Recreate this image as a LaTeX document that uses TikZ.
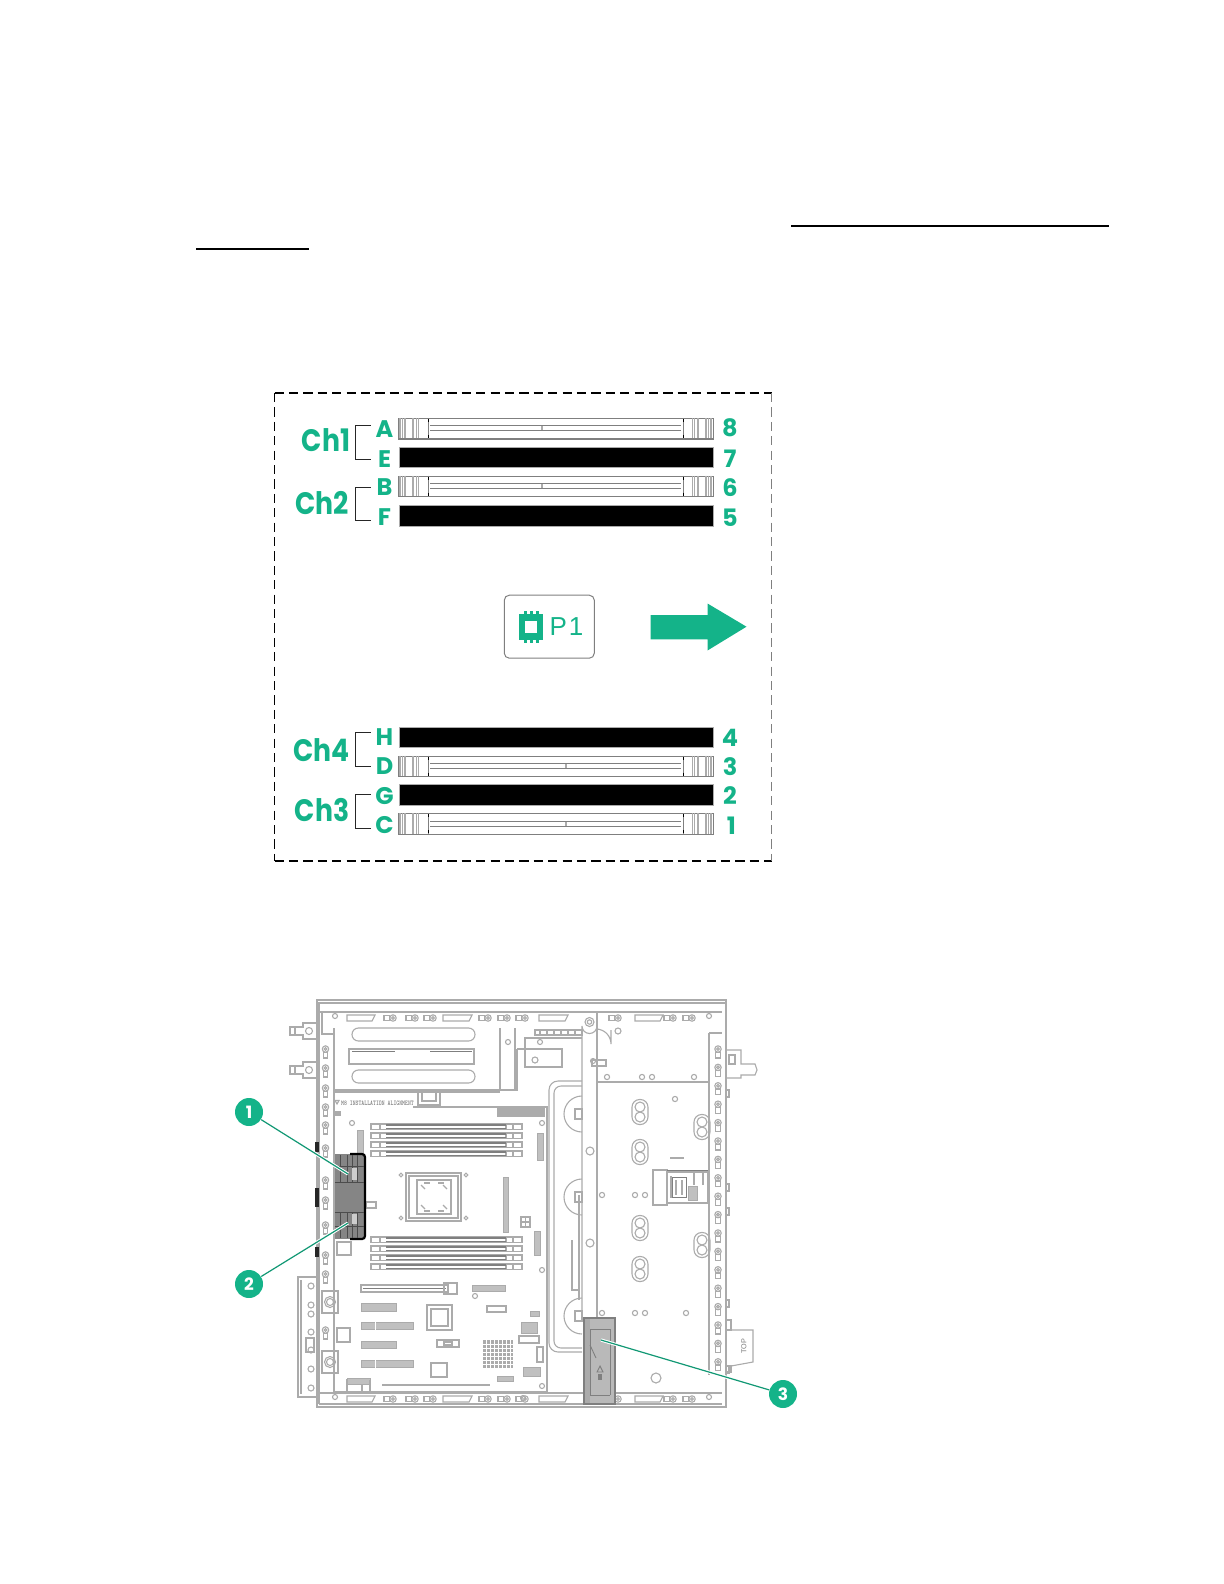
\documentclass[tikz,border=0pt]{standalone}
\usepackage{fontspec}
\setmainfont{Liberation Sans}
\newfontfamily\labelfont{Poppins}
\usetikzlibrary{calc, positioning}
\definecolor{hgreen}{HTML}{14B389}
\definecolor{cline}{HTML}{ABABAB}
\definecolor{cdark}{HTML}{7F7F7F}
\definecolor{cmodule}{HTML}{858585}
\definecolor{cduct}{HTML}{B9B9B9}
\tikzset{
  railscrew/.pic={
    \draw[chline] (0,0) circle (3.2);
    \draw[chline] (0,0) circle (1.4);
    \draw[chline] (-2.4,3.2) rectangle (2.4,9);
  },
  bigscrew/.pic={
    \draw[chline] (-8,-11) rectangle (8,11);
    \draw[chline] (0,0) circle (5.5);
    \draw[chline] (0,0) circle (3.5);
  },
  oval/.pic={
    \draw[chline, rounded corners=3.8pt] (-8,-12.5) rectangle (8,12.5);
    \draw[chline] (0,-5) circle (5);
    \draw[chline] (0,5) circle (5);
  }
}
\begin{document}
\begin{tikzpicture}[x=0.5pt, y=-0.5pt,
  chline/.style={draw=cline, line width=0.55pt},
  darkline/.style={draw=cdark, line width=0.5pt},
  hatchbox/.style={draw=cline, fill=cline!75, line width=0.4pt},
  dimmfull/.style={rectangle, fill=black, draw=cline, line width=0.3pt, minimum width=157.25pt, minimum height=10.25pt, inner sep=0pt},
  dimmopen/.style={rectangle, fill=white, draw=cdark, line width=0.6pt, minimum width=157.25pt, minimum height=10.25pt, inner sep=0pt},
  chlabel/.style={text=hgreen, xscale=0.86, font=\labelfont\bfseries\fontsize{15.5}{16}\selectfont, inner sep=0pt},
  slotlabel/.style={text=hgreen, font=\labelfont\bfseries\fontsize{12}{12}\selectfont, inner sep=0pt},
  chbrk/.style={draw=black!85, line width=0.45pt},
  frameline/.style={dashed, dash pattern=on 4.6pt off 2.6pt, line width=0.7pt},
  callout/.style={circle, fill=hgreen, draw=none, minimum size=14pt, inner sep=0pt, text=white, font=\labelfont\bfseries\fontsize{8.5}{9}\selectfont},
  leader/.style={draw=hgreen!85!black, line width=0.6pt, preaction={draw=white, line width=1.6pt}}
]
\useasboundingbox (0,0) rectangle (1224,1584);

% ============================================================
% Rules left from the text above the picture
\draw[line width=1pt] (791,226) -- (1109,226);
\draw[line width=1pt] (196,248.5) -- (309,248.5);

% ============================================================
% Dashed frame round the DIMM map
\coordinate (fnw) at (274.5,393);
\coordinate (fne) at (771.5,393);
\coordinate (fse) at (771.5,861);
\coordinate (fsw) at (274.5,861);
\draw[frameline] (fnw) -- (fne);
\draw[frameline] (fsw) -- (fse);
\draw[frameline, line width=0.5pt] (fnw) -- (fsw);
\draw[frameline, draw=cdark, line width=0.45pt] (fne) -- (fse);

% DIMM slots: filled ones black, open ones with latches
\node[dimmopen] (slotA) at (556.25,428.75) {};
\node[dimmfull] (slotE) at (556.25,457.5) {};
\node[dimmopen] (slotB) at (556.25,486.5) {};
\node[dimmfull] (slotF) at (556.25,515.75) {};
\node[dimmfull] (slotH) at (556.25,737.5) {};
\node[dimmopen] (slotD) at (556.25,766.5) {};
\node[dimmfull] (slotG) at (556.25,795) {};
\node[dimmopen] (slotC) at (556.25,824) {};

\foreach \s/\nx in {A/143,B/143,D/167,C/167} {
  \begin{scope}[shift={(slot\s.north west)}]
    \draw[chline] (\nx,8) -- (\nx,13);
    \draw[chline] (\nx+1.5,8) -- (\nx+1.5,13);
    \draw[darkline] (32,8) -- (283,8);
    \draw[darkline] (32,13) -- (283,13);
    \draw[darkline] (30,0) -- (30,20.5);
    \draw[darkline] (285,0) -- (285,20.5);
    \draw[black, line width=0.7pt] (30,1) -- (30,4);
    \draw[black, line width=0.7pt] (285,1) -- (285,4);
    \draw[black, line width=0.7pt] (30,17) -- (30,20);
    \draw[black, line width=0.7pt] (285,17) -- (285,20);
    \foreach \lx in {1,2.5,4,6,7.5,14,15.5,18,20} {
      \draw[chline, line width=0.45pt] (\lx,0) -- (\lx,20.5);
      \draw[chline, line width=0.45pt] (314.5-\lx,0) -- (314.5-\lx,20.5);
    }
  \end{scope}
}

% Channel and slot labels
\node[chlabel] (ch1) at (326,440.5) {Ch1};
\node[chlabel] (ch2) at (322,503) {Ch2};
\node[chlabel] (ch4) at (321.5,750) {Ch4};
\node[chlabel] (ch3) at (322,810.5) {Ch3};

\foreach \s/\yy in {A/429,E/459,B/487,F/517,H/737.5,D/766,G/796,C/825} {
  \node[slotlabel] (lab\s) at (384.5,\yy) {\s};
}
\foreach \n/\xx/\yy in {8/730/428,7/730/458.5,6/730/487.5,5/730/517.5,4/730/737.5,3/730/767,2/730/796,1/731.5/826} {
  \node[slotlabel] (num\n) at (\xx,\yy) {\n};
}

% Brackets
\foreach \top/\bot in {425/459,487.5/520.5,732.5/766,794.5/828} {
  \coordinate (ba) at (370.5,\top);
  \coordinate (bb) at (370.5,\bot);
  \draw[chbrk] (ba) -- ($(ba)+(-15,0)$) -- ($(bb)+(-15,0)$) -- (bb);
}

% CPU badge and airflow arrow
\node[draw=cdark, rounded corners=2.5pt, line width=0.5pt, minimum width=45pt, minimum height=31.5pt, inner sep=0pt] (p1box) at (549.3,626.7) {};
\node[text=hgreen, font=\fontsize{13}{13}\selectfont, inner sep=0pt] (p1text) at (566.5,627) {P\kern1pt 1};
\foreach \px in {525,531,537} {
  \fill[hgreen] (\px-1.5,611) rectangle (\px+1.5,643);
}
\fill[hgreen] (519,614) rectangle (543,639.5);
\fill[white] (525,621) rectangle (537,633);
\fill[hgreen] (650.5,615) -- (707.5,615) -- (707.5,603.5) -- (746.5,626.7)
  -- (707.5,650.5) -- (707.5,639.3) -- (650.5,639.3) -- cycle;

% ============================================================
% Chassis seen from the side: outer wall and frame
\draw[chline, line width=1pt] (317,1000) rectangle (726,1407);
\draw[chline] (317,1003) -- (726,1003);
\draw[chline] (319,1012) -- (722,1012);
\draw[chline] (319,1393) -- (722,1393);
\draw[chline] (319,1404) -- (722,1404);
\draw[chline] (319,1003) -- (319,1404);
\draw[chline] (334,1034) -- (334,1393);
\draw[chline] (322,1012) -- (322,1034) -- (334,1034);

% Left rail with its screws
\foreach \yy in {1049,1068,1088,1107,1125,1148,1180,1200,1225,1255,1274,1330} {
  \pic at (325.5,\yy) {railscrew};
}
\foreach \yy in {1302,1362} {
  \pic at (330,\yy) {bigscrew};
}

% Handles on the left wall
\foreach \yy in {1031,1070} {
  \draw[chline] (290,\yy-4) -- (303,\yy-4) -- (303,\yy-8) -- (317,\yy-8)
    -- (317,\yy+8) -- (303,\yy+8) -- (303,\yy+4) -- (290,\yy+4) -- cycle;
  \draw[chline] (309,\yy) circle (3.5);
  \draw[chline] (295,\yy-5) -- (295,\yy+5);
}
\fill[black!85] (315,1142) rectangle (319,1152);
\fill[black!85] (315,1188) rectangle (319,1207);
\fill[black!85] (315,1247) rectangle (319,1257);

% Bracket at the lower left
\draw[chline] (318,1277) -- (298,1277) -- (298,1397) -- (318,1397);
\draw[chline] (301,1280) -- (301,1394);
\foreach \yy in {1286,1305,1314,1332,1350,1369,1388} {
  \draw[chline] (311,\yy) circle (3);
}
\draw[chline] (306,1338) rectangle (314,1352);

% Top and bottom flanges
\foreach \yy in {1018,1399} {
  \foreach \xx in {393,415,433,488,507,525,618,673,692} {
    \pic[rotate=-90] at (\xx,\yy) {railscrew};
  }
  \foreach \xl/\xr in {347/375,443/472,539/568,635/663} {
    \draw[chline] (\xl,\yy-3) -- (\xr,\yy-3) -- (\xr-3,\yy+3) -- (\xl,\yy+3) -- cycle;
  }
  \draw[chline] (335,\yy-2) circle (2.5);
  \draw[chline] (709,\yy-2) circle (2.5);
}

% PCI cage at the top
\draw[chline] (334,1028) -- (334,1090) -- (517,1090) -- (517,1049);
\draw[chline] (500,1028) -- (500,1090);
\draw[chline] (515,1028) -- (515,1090);
\draw[chline] (334,1092) -- (500,1092);
\draw[chline, rounded corners=3.2pt] (352,1028) rectangle (475,1041);
\draw[chline, rounded corners=3.2pt] (352,1070) rectangle (475,1083);
\draw[chline] (349,1049) rectangle (474,1064);
\draw[darkline] (352,1051) -- (395,1051);
\draw[darkline] (430,1051) -- (472,1051);
\draw[chline] (508,1042) circle (2.5);
\draw[chline] (517,1049) -- (525,1049) -- (525,1038) -- (582,1038);
\draw[chline] (525,1049) rectangle (562,1067);
\draw[chline] (535,1060) circle (3);
\draw[chline] (535,1030) rectangle (582,1035);
\foreach \xx in {540,547,554,561,568,575} { \draw[chline] (\xx,1030) -- (\xx,1035); }
\draw[chline] (540,1042) circle (2.5);
\draw[chline] (418,1092) -- (418,1105) -- (440,1105) -- (440,1092);
\draw[chline] (422,1092) -- (422,1101) -- (436,1101) -- (436,1092);

% Alignment note
\draw[chline] (335,1100.5) -- (339,1100.5) -- (337,1104) -- cycle;
\node[text=cline!70!black, xscale=0.77, font=\ttfamily\bfseries\fontsize{3.6}{4}\selectfont, inner sep=0pt] (m8note) at (377.5,1103) {M8 INSTALLATION ALIGNMENT};

% ============================================================
% System board
\draw[chline] (413,1107) -- (547,1107) -- (547,1392);
\draw[chline] (334,1392) -- (547,1392);
\fill[cline] (497,1108) rectangle (545,1117);
\fill[cline] (335,1111) rectangle (341,1116);

% Memory sockets, upper and lower bank
\foreach \yy in {1124,1133,1142,1151,1237,1246,1255,1264} {
  \draw[chline] (371,\yy) rectangle (522,\yy+5.5);
  \draw[chline] (380,\yy) -- (380,\yy+5.5);
  \draw[chline] (513,\yy) -- (513,\yy+5.5);
  \draw[chline] (506,\yy) -- (506,\yy+5.5);
  \draw[cdark, line width=0.7pt] (386,\yy+1) -- (506,\yy+1);
  \draw[cdark, line width=0.7pt] (386,\yy+4.5) -- (506,\yy+4.5);
}

% CPU socket
\draw[chline] (406,1173) rectangle (461,1221);
\draw[chline] (409,1176) rectangle (458,1218);
\draw[chline] (417,1180) rectangle (451,1214);
\foreach \xx/\yy in {401/1175,466/1175,401/1218,466/1218} {
  \draw[chline] (\xx,\yy) circle (1.8);
}
\foreach \xx/\yy in {423/1187,445/1187,423/1207,445/1207} {
  \draw[chline] (\xx-2,\yy-2) -- (\xx+2,\yy+2);
}
\foreach \xx in {427,441} { \draw[chline] (\xx-3,1183) -- (\xx+3,1183); \draw[chline] (\xx-3,1211) -- (\xx+3,1211); }

% Headers and small parts on the board
\foreach \xa/\ya/\xb/\yb in {503/1177/508/1232, 537/1133/543/1160, 534/1231/540/1255, 357/1130/363/1153, 472/1285/505/1291, 361/1303/396/1311, 361/1341/396/1348, 521/1322/537/1333, 523/1367/540/1376} {
  \draw[hatchbox] (\xa,\ya) rectangle (\xb,\yb);
}
\foreach \yy in {1322,1360} {
  \draw[hatchbox] (361,\yy) rectangle (413,\yy+7.5);
  \draw[white, line width=0.4pt] (375,\yy) -- (375,\yy+7.5);
}
\draw[chline] (521,1217) rectangle (530,1227);
\draw[chline] (525.5,1217) -- (525.5,1227);
\draw[chline] (521,1222) -- (530,1222);
\draw[chline] (361,1285) rectangle (448,1292);
\draw[cdark, line width=0.6pt] (363,1288.5) -- (446,1288.5);
\draw[chline] (444,1283) rectangle (457,1294);
\draw[chline] (427,1305) rectangle (452,1330);
\draw[chline] (431,1309) rectangle (448,1326);
\draw[chline] (487,1306) rectangle (506,1312);
\draw[hatchbox] (530,1311) rectangle (539,1316);
\draw[chline] (519,1336) rectangle (539,1343);
\draw[chline] (437,1340) rectangle (459,1347);
\draw[chline] (444,1342) rectangle (452,1345);
\draw[chline] (537,1347) rectangle (543,1362);
\draw[chline] (431,1363) rectangle (447,1377);
\draw[chline] (337,1328) rectangle (350,1342);
\draw[chline] (337,1242) rectangle (351,1255);
\draw[chline] (366,1202) rectangle (376,1208);
% heatsink
\fill[cline] (483,1340) rectangle (513,1368);
\foreach \xx in {486,490,...,510} { \draw[white, line width=0.25pt] (\xx,1340) -- (\xx,1368); }
\foreach \yy in {1344,1348,...,1366} { \draw[white, line width=0.25pt] (483,\yy) -- (513,\yy); }
\foreach \xx/\yy in {352/1123,542/1123,542/1270,475/1296,542/1386,523/1398} {
  \draw[chline] (\xx,\yy) circle (2.5);
}
% bottom edge pieces
\draw[chline] (347,1380) rectangle (362,1392);
\draw[hatchbox] (347,1378) rectangle (370,1384);
\draw[chline] (370,1380) -- (370,1392);
\draw[chline] (382,1385) -- (490,1385);
\draw[hatchbox] (497,1376) rectangle (513,1381);

% ============================================================
% Air duct tube and its half round clips
\draw[chline, rounded corners=4.5pt] (582,1081) -- (549,1081) -- (549,1352) -- (582,1352);
\draw[chline, rounded corners=3.5pt] (582,1086) -- (554,1086) -- (554,1348) -- (582,1348);
\foreach \yy in {1114,1197,1316} {
  \draw[chline] (582,\yy-18) arc (90:270:18 and -18);
  \draw[chline] (575,\yy-5) rectangle (582,\yy+5);
}

% Long vertical bar
\draw[chline] (582,1318) -- (582,1026) arc (180:0:7.5) -- (597,1318);
\draw[chline] (589.5,1022) circle (4.5);
\draw[chline] (589.5,1022) circle (2.2);
\draw[chline] (590,1151) circle (4);
\draw[chline] (590,1243) circle (4);
\draw[chline] (579,1195) -- (579,1300);
\draw[chline] (572,1240) -- (572,1290) -- (579,1290);

% Drive bay plate
\draw[chline] (597,1082) -- (709,1082);
\draw[chline] (597,1012) -- (597,1318);
\draw[chline] (611,1030) -- (611,1044) arc (180:90:-15 and -15);
\draw[chline] (618,1031) circle (3);
\draw[chline] (592,1060) rectangle (606,1066);
\draw[chline] (593,1061) circle (2.5);
\foreach \xx/\yy in {607/1077,642/1077,652/1077,694/1077,602/1195,635/1195,645/1195,602/1313,635/1313,645/1313,686/1313,675/1099} {
  \draw[chline] (\xx,\yy) circle (2.6);
}
\draw[chline] (656,1378) circle (5);
\foreach \xx/\yy in {640/1112,640/1152,640/1228,640/1269,702/1127,702/1245} {
  \pic at (\xx,\yy) {oval};
}

% Power connector in the middle of the plate
\draw[chline, line width=0.6pt] (653,1170) rectangle (667,1205);
\draw[darkline] (667,1170) -- (708,1170);
\draw[chline, line width=0.6pt] (667,1172) rectangle (708,1203);
\draw[chline] (671,1176) -- (671,1198);
\draw[darkline] (672,1177) -- (672,1197) -- (686,1197) -- (686,1177) -- cycle;
\draw[chline] (676,1180) -- (676,1195);
\draw[chline] (682,1180) -- (682,1195);
\draw[hatchbox] (688,1186) rectangle (697,1200);
\draw[chline] (694,1172) -- (694,1185);
\draw[chline] (703,1172) -- (703,1185);
\draw[chline] (670,1158) -- (684,1158);

% Right rail with its screws
\draw[chline] (709,1033) -- (709,1375);
\draw[chline] (726,1033) -- (726,1375);
\draw[chline] (709,1033) -- (722,1033);
\foreach \i in {0,...,17} {
  \pic at (718,1049+\i*18.4) {railscrew};
}
\foreach \yy in {1090,1184,1208,1300,1366} {
  \draw[chline] (726,\yy) rectangle (729,\yy+7);
}

% Right handle and TOP tab
\draw[chline] (726,1050) -- (741,1050) -- (741,1064) -- (755,1064) -- (757,1070) -- (755,1075) -- (741,1075) -- (741,1078) -- (726,1078);
\draw[chline] (729,1055) rectangle (735,1064);
\draw[chline] (726,1320) rectangle (731,1330);
\draw[chline] (726,1366) rectangle (731,1372);
\draw[chline] (731,1330) -- (753,1330) -- (753,1362) -- (731,1366);
\node[rotate=90, text=cline!70!black, font=\fontsize{3.6}{4}\selectfont, inner sep=0pt] (toplabel) at (744,1346) {TOP};

% ============================================================
% Grey module on the left of the board
\fill[cmodule] (335,1154) rectangle (364,1239);
\draw[black, line width=1.1pt, rounded corners=1.5pt] (350,1154) -- (365,1154) -- (365,1239) -- (350,1239);
\foreach \xx in {340,347,352,357} {
  \draw[black!70, line width=0.4pt] (\xx,1155) -- (\xx,1182);
  \draw[black!70, line width=0.4pt] (\xx,1212) -- (\xx,1238);
}
\draw[black!70, line width=0.4pt] (335,1182) -- (364,1182);
\draw[black!70, line width=0.4pt] (335,1212) -- (364,1212);
\draw[black!70, line width=0.4pt] (335,1166) -- (364,1166);
\draw[black!70, line width=0.4pt] (335,1226) -- (364,1226);
\fill[cline!60] (352,1168) rectangle (357,1180);
\fill[cline!60] (352,1214) rectangle (357,1224);

% Air duct latch at the bottom of the bar
\fill[cduct] (584,1318) rectangle (615,1404);
\fill[cline] (584,1318) rectangle (590,1404);
\draw[cdark, line width=1pt] (584,1318) rectangle (615,1404);
\draw[cdark, line width=0.45pt] (590,1329) -- (610,1329) -- (610,1395);
\draw[cdark, line width=0.45pt] (590,1329) -- (590,1395);
\draw[cdark, line width=0.45pt] (590,1395) -- (610,1395);
\draw[cdark, line width=0.45pt] (590,1345) -- (596,1358);
\draw[cdark, line width=0.45pt] (597,1372) -- (603,1372) -- (600,1366) -- cycle;
\fill[cdark] (598,1374) rectangle (602,1380);

% ============================================================
% Callouts
\node[callout] (call1) at (249,1112) {1};
\node[callout] (call2) at (249,1284) {2};
\node[callout] (call3) at (783,1394) {3};
\coordinate (tip1) at (348,1174);
\coordinate (tip2) at (348,1223);
\coordinate (tip3) at (601,1340);
\draw[leader] (call1) -- (tip1);
\draw[leader] (call2) -- (tip2);
\draw[leader] (call3) -- (tip3);
\end{tikzpicture}
\end{document}
